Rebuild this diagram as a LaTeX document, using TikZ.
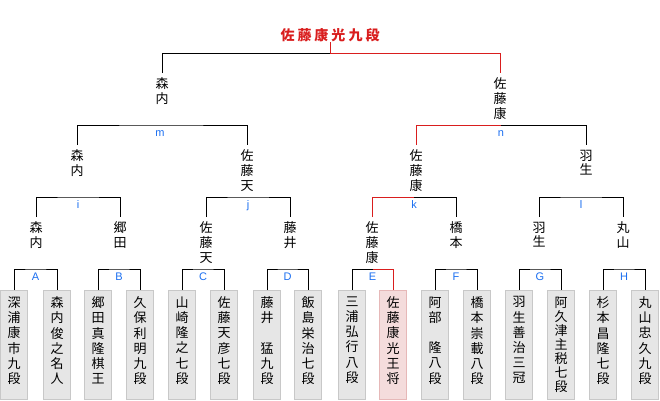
\documentclass[tikz,border=0pt]{standalone}
\usepackage{fontspec}
\setsansfont{Liberation Sans}
\newfontfamily\jpfont{Noto Sans CJK JP}
\usepackage{tikz}
\usetikzlibrary{positioning}
\definecolor{brkred}{HTML}{D91E1E}
\definecolor{brkblue}{HTML}{1A6EF0}
\definecolor{boxgrey}{HTML}{E6E6E6}
\definecolor{boxedge}{HTML}{C8C8C8}
\definecolor{boxpink}{HTML}{F4DCDC}
\definecolor{pinkedge}{HTML}{E6B8B8}
\tikzset{
  brk/.style={line width=1pt,black},
  win/.style={line width=1pt,brkred},
  tate/.style={font=\jpfont\fontsize{13}{14.7}\selectfont,align=center,inner sep=0pt,outer ysep=5pt,anchor=north},
  leafbox/.style={draw=boxedge,fill=boxgrey,line width=0.8pt,minimum width=27pt,minimum height=109pt,inner sep=0pt,anchor=north},
  winbox/.style={leafbox,draw=pinkedge,fill=boxpink},
  leaftext/.style={font=\jpfont\fontsize{13}{15.2}\selectfont,align=center,inner sep=0pt},
  tighttext/.style={leaftext,font=\jpfont\fontsize{13}{14.1}\selectfont},
  rnd/.style={font=\sffamily\fontsize{11}{11}\selectfont,text=brkblue,inner sep=0pt,outer ysep=3pt,text height=8pt,text depth=0pt,anchor=north},
  champ/.style={font=\jpfont\bfseries\fontsize{14}{14}\selectfont,text=brkred,inner sep=0pt,anchor=south}
}
\begin{document}
\begin{tikzpicture}[x=1pt,y=-1pt]
  \useasboundingbox (0,0) rectangle (660,400);
  \foreach \lab/\x/\bx/\tx [count=\i] in {
      {深\\浦\\康\\市\\九\\段}/14/leafbox/leaftext,
      {森\\内\\俊\\之\\名\\人}/57/leafbox/leaftext,
      {郷\\田\\真\\隆\\棋\\王}/98/leafbox/leaftext,
      {久\\保\\利\\明\\九\\段}/140/leafbox/leaftext,
      {山\\崎\\隆\\之\\七\\段}/182/leafbox/leaftext,
      {佐\\藤\\天\\彦\\七\\段}/224/leafbox/leaftext,
      {藤\\井\\　\\猛\\九\\段}/267/leafbox/leaftext,
      {飯\\島\\栄\\治\\七\\段}/308/leafbox/leaftext,
      {三\\浦\\弘\\行\\八\\段}/352/leafbox/leaftext,
      {佐\\藤\\康\\光\\王\\将}/393/winbox/leaftext,
      {阿\\部\\　\\隆\\八\\段}/435/leafbox/leaftext,
      {橋\\本\\崇\\載\\八\\段}/477/leafbox/leaftext,
      {羽\\生\\善\\治\\三\\冠}/519/leafbox/leaftext,
      {阿\\久\\津\\主\\税\\七\\段}/561/leafbox/tighttext,
      {杉\\本\\昌\\隆\\七\\段}/603/leafbox/leaftext,
      {丸\\山\\忠\\久\\九\\段}/645/leafbox/leaftext} {
    \node[\bx] (box\i) at (\x,290) {};
    \node[\tx,below=6.5pt of box\i.north] (leaf\i) {\lab};
  }
  \foreach \nm/\lab/\x/\y in {
      r1a/{森\\内}/36/217, r1b/{郷\\田}/120/217, r1c/{佐\\藤\\天}/206/217, r1d/{藤\\井}/290/217,
      r1e/{佐\\藤\\康}/372/217, r1f/{橋\\本}/456/217, r1g/{羽\\生}/539/217, r1h/{丸\\山}/623/217,
      r2a/{森\\内}/77/145, r2b/{佐\\藤\\天}/247/145, r2c/{佐\\藤\\康}/416/145, r2d/{羽\\生}/586/145,
      r3a/{森\\内}/162/73, r3b/{佐\\藤\\康}/500/73}
    \node[tate] (\nm) at (\x,\y) {\lab};
  \foreach \nm/\x/\y in {A/35.5/269, B/119/269, C/203/269, D/287.5/269, E/372.5/269, F/456/269,
      G/540/269, H/624/269, i/78/197, j/248/197, k/414/197, l/581/197, m/160/125, n/501/125}
    \node[rnd] (lbl\nm) at (\x,\y) {\nm};
  \node[champ] (final) at (330,42) {佐\kern3pt 藤\kern3pt 康\kern3pt 光\kern3pt 九\kern3pt 段};
  \coordinate (topc) at (330,53);
  \foreach \l/\r/\m in {box1/box2/A, box3/box4/B, box5/box6/C, box7/box8/D, box11/box12/F,
      box13/box14/G, box15/box16/H, r1a/r1b/i, r1c/r1d/j, r1g/r1h/l, r2a/r2b/m}
    \draw[brk] (\l.north) |- (lbl\m.north) -| (\r.north);
  \draw[brk] (box9.north) |- (lblE.north);
  \draw[win] (lblE.north) -| (box10.north);
  \draw[win] (r1e.north) |- (lblk.north);
  \draw[brk] (lblk.north) -| (r1f.north);
  \draw[win] (r2c.north) |- (lbln.north);
  \draw[brk] (lbln.north) -| (r2d.north);
  \draw[win] (final.south) -- (topc);
  \draw[brk] (r3a.north) |- (topc);
  \draw[win] (topc) -| (r3b.north);
\end{tikzpicture}
\end{document}
